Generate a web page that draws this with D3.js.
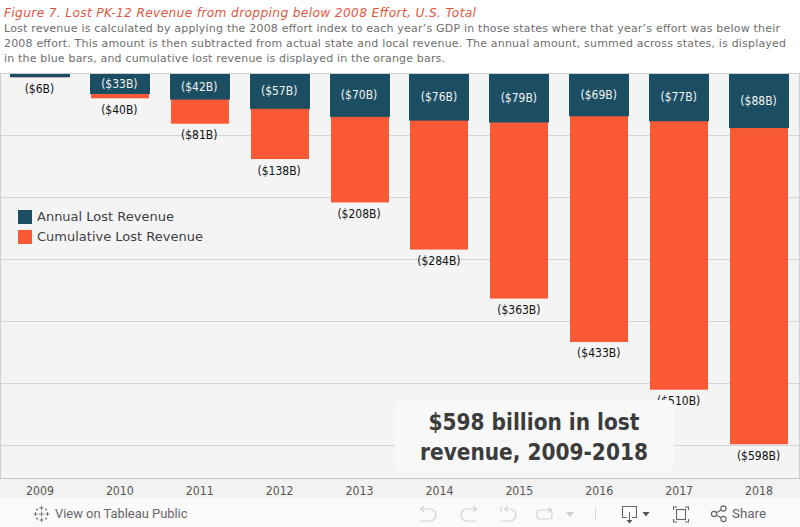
<!DOCTYPE html>
<html><head><meta charset="utf-8">
<script src="https://cdnjs.cloudflare.com/ajax/libs/d3/7.8.5/d3.min.js"></script>
<style>html,body{margin:0;padding:0;background:#fff;overflow:hidden}svg{display:block}</style>
</head><body><svg id="c" width="800" height="527"></svg>
<script>
const years=[2009,2010,2011,2012,2013,2014,2015,2016,2017,2018];
const annual=[6,33,42,57,70,76,79,69,77,88];
const cumulative=[6,40,81,138,208,284,363,433,510,598];
const gridTicks=[0,100,200,300,400,500,600];
const titleText="Figure 7. Lost PK-12 Revenue from dropping below 2008 Effort, U.S. Total";
const subtitleLines=["Lost revenue is calculated by applying the 2008 effort index to each year\u2019s GDP in those states where that year\u2019s effort was below their","2008 effort. This amount is then subtracted from actual state and local revenue. The annual amount, summed across states, is displayed","in the blue bars, and cumulative lost revenue is displayed in the orange bars."];
const legendItems=["Annual Lost Revenue","Cumulative Lost Revenue"];
const annotationLines=["$598 billion in lost","revenue, 2009-2018"];
const BLUE="#1c4e63",ORANGE="#f95a35";
const SANS="'DejaVu Sans',sans-serif",COND="'DejaVu Sans Condensed','DejaVu Sans',sans-serif";

const svg=d3.select("#c");
const x=d3.scaleBand().domain(years).range([0,799]);
const y=d3.scaleLinear().domain([0,600]).range([73.5,445.5]);
const fmt=v=>`($${v}B)`;

// header
svg.append("rect").attr("width",800).attr("height",527).attr("fill","#fff");
svg.append("text").attr("x",4).attr("y",17).attr("fill","#e0573f").attr("font-family",SANS).attr("font-style","italic").attr("font-size",12.2).attr("textLength",472).attr("lengthAdjust","spacing").text(titleText);
const subW=[776,782,441];
svg.selectAll("text.sub").data(subtitleLines).join("text").attr("class","sub").attr("x",4).attr("y",(d,i)=>32+i*15).attr("fill","#6e6e6e").attr("font-family",SANS).attr("font-size",11).attr("textLength",(d,i)=>subW[i]).attr("lengthAdjust","spacing").text(d=>d);

// plot background
svg.append("rect").attr("x",0).attr("y",73).attr("width",800).attr("height",405).attr("fill","#f4f4f4");
const ga=svg.append("g").attr("transform","translate(0,-1)").call(d3.axisLeft(y).tickValues(gridTicks).tickSize(-800).tickFormat(""));
ga.select(".domain").remove();
ga.selectAll("line").attr("stroke","#d4d4d4").attr("shape-rendering","crispEdges");

// bars
const cx=d=>x(d)+x.bandwidth()/2;
svg.selectAll("rect.cum").data(years).join("rect").attr("class","cum").attr("x",d=>Math.round(cx(d)-29)).attr("width",58).attr("y",y(0)).attr("height",(d,i)=>y(cumulative[i])-y(0)).attr("fill",ORANGE);
svg.selectAll("rect.ann").data(years).join("rect").attr("class","ann").attr("x",d=>Math.round(cx(d)-30)).attr("width",60).attr("y",y(0)).attr("height",(d,i)=>y(annual[i])-y(0)).attr("fill",BLUE);

// labels
svg.selectAll("text.ann").data(years.slice(1)).join("text").attr("class","ann").attr("x",d=>cx(d)-0.5).attr("y",(d,i)=>(y(0)+y(annual[i+1]))/2+4).attr("text-anchor","middle").attr("fill","#f2f2f2").attr("font-family",COND).attr("font-size",12).text((d,i)=>fmt(annual[i+1]));
svg.selectAll("text.cum").data(years).join("text").attr("class","cum").attr("x",d=>cx(d)-0.5).attr("y",(d,i)=>y(cumulative[i])+15.5).attr("text-anchor","middle").attr("fill","#111").attr("font-family",COND).attr("font-size",12).text((d,i)=>fmt(cumulative[i]));

// frame
svg.append("line").attr("x1",0).attr("x2",800).attr("y1",73.5).attr("y2",73.5).attr("stroke","#cfcfcf");
svg.append("line").attr("x1",0).attr("x2",800).attr("y1",478.5).attr("y2",478.5).attr("stroke","#c8c8c8");
svg.append("line").attr("x1",0.5).attr("x2",0.5).attr("y1",73).attr("y2",478).attr("stroke","#cfcfcf");
svg.append("line").attr("x1",799.5).attr("x2",799.5).attr("y1",73).attr("y2",478).attr("stroke","#cfcfcf");

// legend
const lg=svg.selectAll("g.lg").data(legendItems).join("g").attr("class","lg").attr("transform",(d,i)=>`translate(18,${210+i*20})`);
lg.append("rect").attr("width",14).attr("height",14).attr("fill",(d,i)=>i?ORANGE:BLUE);
lg.append("text").attr("x",19).attr("y",11).attr("fill","#3f3f3f").attr("font-family",SANS).attr("font-size",13).text(d=>d);

// annotation
svg.append("rect").attr("x",395).attr("y",400).attr("width",279).attr("height",72).attr("rx",8).attr("fill","#f8f8f8");
svg.selectAll("text.note").data(annotationLines).join("text").attr("class","note").attr("x",534).attr("y",(d,i)=>430+i*30).attr("text-anchor","middle").attr("fill","#3c3c3c").attr("font-family",COND).attr("font-weight","bold").attr("font-size",22.4).text(d=>d);

// x axis band
svg.append("rect").attr("x",0).attr("y",479).attr("width",800).attr("height",18).attr("fill","#f2f2f2");
const gx=svg.append("g").attr("transform","translate(0,479)").call(d3.axisBottom(x).tickSize(0).tickPadding(7));
gx.select(".domain").remove();
gx.selectAll("text").attr("fill","#555").attr("font-family",COND).attr("font-size",12.2);

// toolbar
svg.append("rect").attr("x",0).attr("y",497).attr("width",800).attr("height",30).attr("fill","#fafafa");
const tb=svg.append("g");
const logo=tb.append("g").attr("transform","translate(41.5,514)").attr("stroke","#777").attr("stroke-width",1).attr("fill","none");
[[0,0,2.5],[0,-6,2],[0,6,2],[-6,0,2],[6,0,2],[-4.5,-4.5,1],[4.5,-4.5,1],[-4.5,4.5,1],[4.5,4.5,1]].forEach(([a,b,r])=>logo.append("path").attr("d",`M${a-r},${b}H${a+r}M${a},${b-r}V${b+r}`));
tb.append("text").attr("x",55).attr("y",518).attr("fill","#666").attr("font-family","Roboto,sans-serif").attr("font-size",12.9).text("View on Tableau Public");
const soft=tb.append("g").attr("fill","none").attr("stroke","#d4d4d4").attr("stroke-width",1.2);
soft.append("path").attr("d","M421,509H430a6,6 0 0 1 0,12H420M424,506L420.5,509L424,512");
soft.append("path").attr("d","M476,509H467a6,6 0 0 0 0,12H476M473,506L476.5,509L473,512");
soft.append("path").attr("d","M505,509H510a6,6 0 0 1 0,12H501M508,506L504.5,509L508,512M501,506V512");
soft.append("path").attr("d","M544,510H540a3,3 0 0 0 -3,3V516a3,3 0 0 0 3,3H549a3,3 0 0 0 3,-3V513a3,3 0 0 0 -3,-3H544M548,507.5L551.5,510L548,512.5");
tb.append("path").attr("d","M566,512H574L570,517Z").attr("fill","#d0d0d0");
tb.append("line").attr("x1",595.5).attr("x2",595.5).attr("y1",507).attr("y2",520).attr("stroke","#d8d8d8");
const dark=tb.append("g").attr("fill","none").attr("stroke","#666").attr("stroke-width",1.1);
dark.append("path").attr("d","M627,517.5H622.5V506.5H636.5V517.5H632M629.5,512V520");
tb.append("path").attr("d","M626.5,520H632.5L629.5,523.5Z").attr("fill","#555");
tb.append("path").attr("d","M642.5,512H649.5L646,516.5Z").attr("fill","#555");
dark.append("path").attr("d","M673.5,510V507H677M685,507H688.5V510M688.5,519V522H685M677,522H673.5V519");
dark.append("rect").attr("x",676.5).attr("y",509.5).attr("width",9).attr("height",10);
const sh=tb.append("g").attr("fill","none").attr("stroke","#666").attr("stroke-width",1.1);
sh.append("circle").attr("cx",714).attr("cy",514).attr("r",2.6);
sh.append("circle").attr("cx",723.5).attr("cy",508.5).attr("r",2.6);
sh.append("circle").attr("cx",723.5).attr("cy",519).attr("r",2.6);
sh.append("path").attr("d","M716.3,512.7L721.2,510M716.3,515.3L721.2,517.8");
tb.append("text").attr("x",732).attr("y",518).attr("fill","#666").attr("font-family","Roboto,sans-serif").attr("font-size",13.4).text("Share");
</script></body></html>
